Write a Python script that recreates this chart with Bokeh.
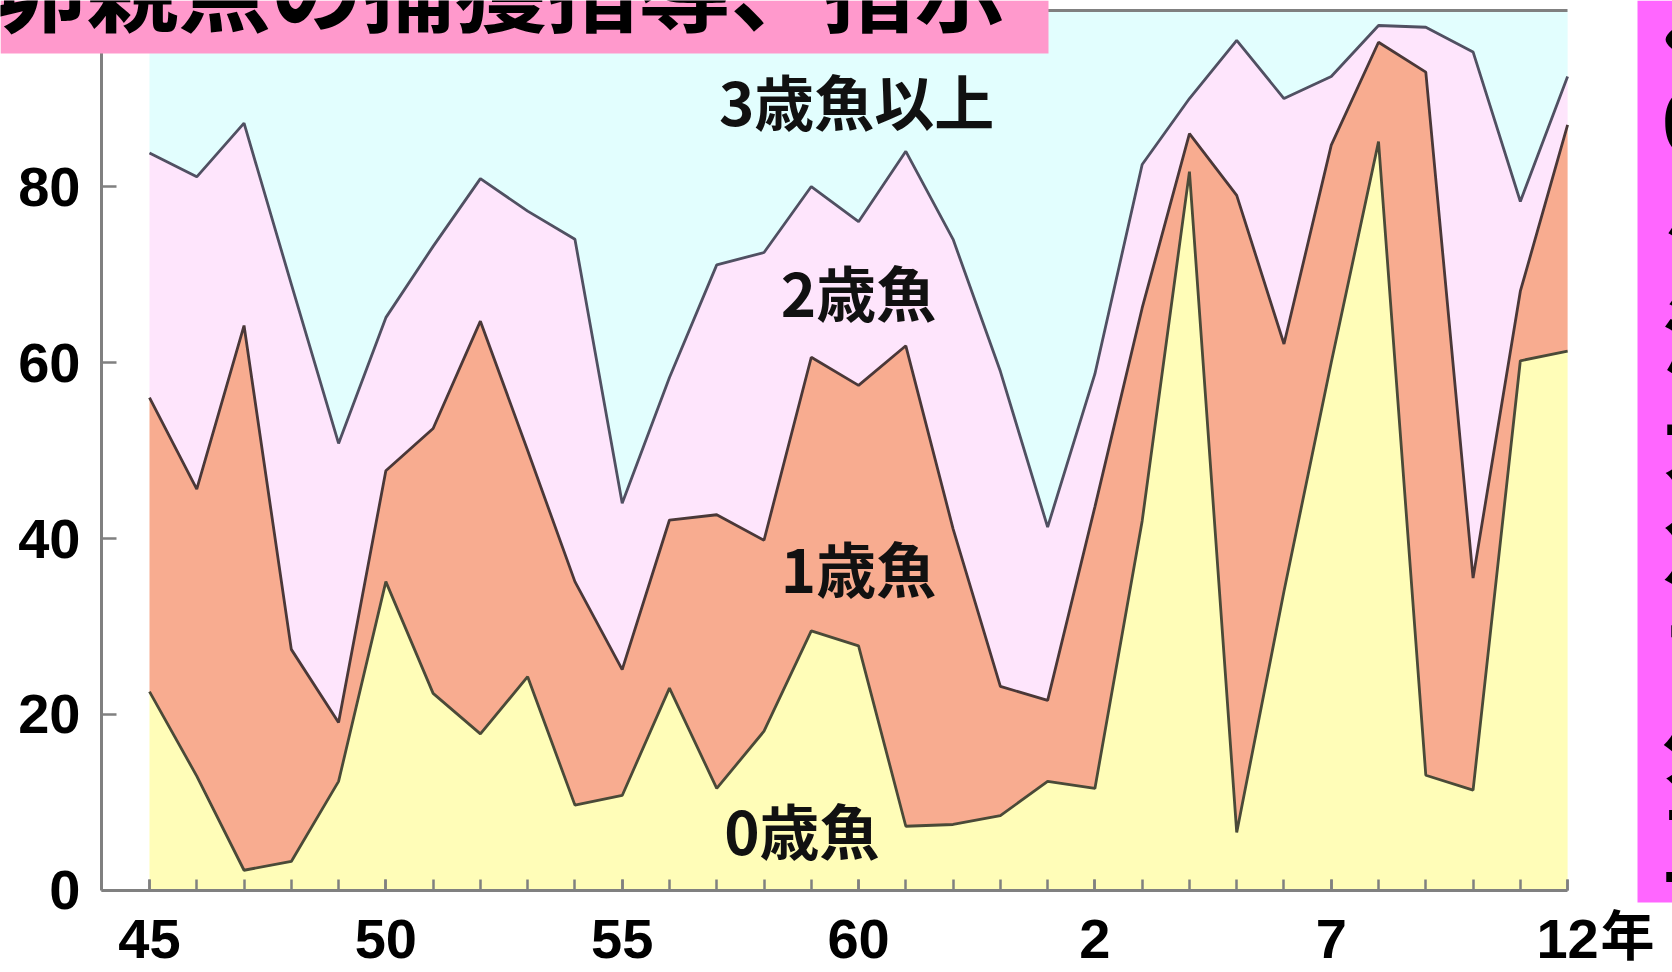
from bokeh.plotting import figure
from bokeh.models import (ColumnDataSource, Range1d, FixedTicker, BoxAnnotation, Label,
                          LinearAxis)
from bokeh.embed import file_html
from bokeh.resources import INLINE

# ---------------- data ----------------
YEARS = [1970, 1971, 1972, 1973, 1974, 1975, 1976, 1977, 1978, 1979,
         1980, 1981, 1982, 1983, 1984, 1985, 1986, 1987, 1988, 1989,
         1990, 1991, 1992, 1993, 1994, 1995, 1996, 1997, 1998, 1999, 2000]

AGE0 = [22.6, 13.0, 2.3, 3.3, 12.4, 35.1, 22.4, 17.8, 24.3, 9.7,
        10.8, 23.0, 11.6, 18.1, 29.5, 27.8, 7.3, 7.5, 8.5, 12.4,
        11.6, 42.0, 81.7, 6.6, 34.0, 60.0, 85.1, 13.1, 11.4, 60.2, 61.3]
AGE1 = [33.4, 32.6, 61.9, 24.1, 6.7, 12.6, 30.1, 46.9, 25.7, 25.4,
        14.3, 19.1, 31.1, 21.7, 31.1, 29.6, 54.6, 33.6, 14.7, 9.2,
        32.0, 24.2, 4.3, 72.4, 28.1, 24.7, 11.3, 79.9, 24.1, 7.9, 25.7]
AGE2 = [27.8, 35.5, 23.0, 41.5, 31.7, 17.4, 20.7, 16.2, 27.2, 38.9,
        18.9, 16.2, 28.4, 32.7, 19.4, 18.6, 22.1, 32.9, 35.8, 19.7,
        15.1, 16.3, 4.0, 17.6, 27.9, 7.8, 1.9, 5.1, 59.8, 10.2, 5.5]
AGE3 = [16.2, 18.9, 12.8, 31.1, 49.2, 34.9, 26.8, 19.1, 22.8, 26.0,
        56.0, 41.7, 28.9, 27.5, 20.0, 24.0, 16.0, 26.0, 41.0, 58.7,
        41.3, 17.5, 10.0, 3.4, 10.0, 7.5, 1.7, 1.9, 4.7, 21.7, 7.5]

SERIES_NAMES = ["0歳魚", "1歳魚", "2歳魚", "3歳魚以上"]
X_TICKS = [1970, 1975, 1980, 1985, 1990, 1995, 2000]
X_TICK_LABELS = ["45", "50", "55", "60", "2", "7", "12"]
X_UNIT = "年"
Y_TICKS = [0, 20, 40, 60, 80]
TITLE = "卵親魚の捕獲指導、指示"
SIDE_CHARS = ["く", "0", "ジ", "漁", "大", "魚", "ブ", "外", "正"]

# ---------------- style ----------------
FILLS = ["#FFFDB8", "#F8AC90", "#FEE5FC", "#E2FEFE"]
LINES = ["#4A4A38", "#4A3838", "#505062"]
AXIS = "#808080"
FONT = "Noto Sans CJK JP"
NUM_FONT = "Liberation Sans"

# the frame covers the whole picture; axes are pinned inside it
X0, X1 = 1966.848, 2002.219      # canvas left / right edge in years
Y0, Y1 = -9.32, 101.14           # canvas bottom / top edge in %
AX_X = 1968.985                  # where the value axis stands
P_LEFT, P_RIGHT = 1968.985, 2000

source = ColumnDataSource(dict(x=YEARS, a0=AGE0, a1=AGE1, a2=AGE2, a3=AGE3))

p = figure(width=1672, height=972, output_backend="svg", toolbar_location=None,
           x_range=Range1d(X0, X1), y_range=Range1d(Y0, Y1),
           x_axis_location=None, y_axis_location=None,
           min_border=0, min_border_left=0, min_border_right=0,
           min_border_top=0, min_border_bottom=0)
p.outline_line_color = None
p.background_fill_color = "white"
p.border_fill_color = "white"
p.xgrid.visible = False
p.ygrid.visible = False

p.varea_stack(stackers=["a0", "a1", "a2", "a3"], x="x", color=FILLS, source=source)
p.vline_stack(stackers=["a0", "a1", "a2"], x="x", color=LINES, line_width=2.8,
              source=source)


def style_axis(ax):
    ax.axis_line_color = AXIS
    ax.axis_line_width = 3
    ax.major_tick_line_color = AXIS
    ax.major_tick_line_width = 2.5
    ax.major_tick_out = 0
    ax.minor_tick_out = 0
    ax.major_label_text_font = NUM_FONT
    ax.major_label_text_font_style = "bold"
    ax.major_label_text_font_size = "56px"
    ax.major_label_text_color = "black"


xa = LinearAxis(fixed_location=0, bounds=(P_LEFT, P_RIGHT))
style_axis(xa)
xa.ticker = FixedTicker(ticks=X_TICKS, minor_ticks=YEARS)
xa.major_label_overrides = {t: l for t, l in zip(X_TICKS, X_TICK_LABELS)}
xa.major_tick_in = 11
xa.minor_tick_in = 11
xa.minor_tick_line_color = AXIS
xa.minor_tick_line_width = 2.5
xa.major_label_standoff = 30
p.add_layout(xa, "below")

ya = LinearAxis(fixed_location=AX_X, bounds=(0, 100))
style_axis(ya)
ya.ticker = FixedTicker(ticks=Y_TICKS)
ya.major_tick_in = 15
ya.minor_tick_line_color = None
ya.major_label_standoff = 21
p.add_layout(ya, "left")

# top frame line
ta = LinearAxis(fixed_location=100, bounds=(P_LEFT, P_RIGHT))
ta.ticker = FixedTicker(ticks=[])
ta.axis_line_color = AXIS
ta.axis_line_width = 3
ta.major_tick_line_color = None
ta.minor_tick_line_color = None
p.add_layout(ta, "above")

# series labels inside the areas
label_pos = [(1983.8, 7.1), (1985.0, 36.8), (1985.0, 68.2), (1984.96, 89.9)]
for name, (lx, ly) in zip(SERIES_NAMES, label_pos):
    p.add_layout(Label(x=lx, y=ly, text=name, text_align="center",
                       text_baseline="middle", text_font=FONT,
                       text_font_style="bold", text_font_size="60px",
                       text_color="#111111"))

# unit after last tick label
p.add_layout(Label(x=1600, y=932, x_units="canvas", y_units="canvas", text=X_UNIT,
                   text_align="left", text_baseline="middle", text_font=FONT,
                   text_font_style="bold", text_font_size="54px", text_color="black"))

# title box (cut off at the top of the picture, as in the source slide)
p.add_layout(BoxAnnotation(left=0, right=1048, top=0, bottom=53,
                           left_units="canvas", right_units="canvas",
                           top_units="canvas", bottom_units="canvas",
                           fill_color="#FF99CC", fill_alpha=1, line_color=None,
                           level="overlay"))
p.add_layout(Label(x=-6, y=-16, x_units="canvas", y_units="canvas", text=TITLE,
                   text_align="left", text_baseline="middle", text_font=FONT,
                   text_font_style="bold", text_font_size="92px", text_color="black",
                   level="overlay"))

# side box (cut off at the right, as in the source slide)
p.add_layout(BoxAnnotation(left=1637, right=1672, top=0, bottom=902,
                           left_units="canvas", right_units="canvas",
                           top_units="canvas", bottom_units="canvas",
                           fill_color="#FF66FF", fill_alpha=1, line_color=None,
                           level="overlay"))
side_x = [1650, 1661, 1662, 1662, 1662, 1662, 1662, 1662, 1662]
side_y = [34, 121, 234, 331, 436, 539, 649, 741, 839]
for ch, cx, cy in zip(SIDE_CHARS, side_x, side_y):
    p.add_layout(Label(x=cx, y=cy, x_units="canvas", y_units="canvas", text=ch,
                       text_align="left", text_baseline="middle", text_font=FONT,
                       text_font_style="bold", text_font_size="85px",
                       text_color="black", level="overlay"))

open("out.html", "w").write(file_html(p, INLINE))
